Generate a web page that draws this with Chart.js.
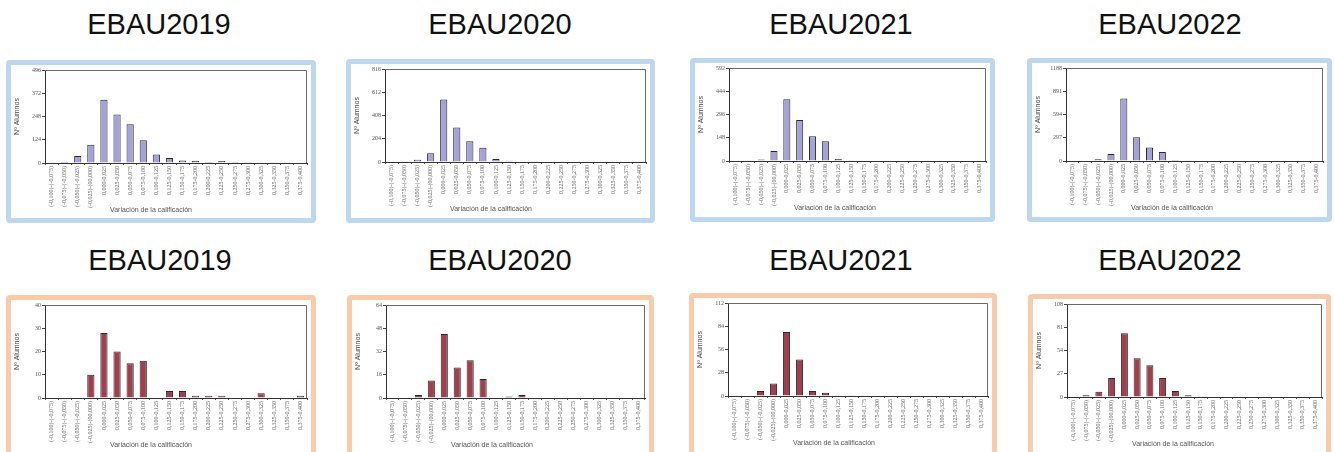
<!DOCTYPE html>
<html><head><meta charset="utf-8">
<script src="https://cdn.jsdelivr.net/npm/chart.js@4.4.0/dist/chart.umd.min.js"></script>
<style>
html,body{margin:0;padding:0;background:#fff;width:1334px;height:452px;overflow:hidden;position:relative;}
.title{position:absolute;width:240px;margin-left:-120px;text-align:center;font-family:"Liberation Sans",Arial,sans-serif;font-size:29px;line-height:29px;color:#111;}
.panel{position:absolute;border:5px solid;border-radius:4px;background:#fff;box-sizing:border-box;overflow:visible;}
.panel.blue{border-color:#bdd7ee;}
.panel.orange{border-color:#f8cbad;}
.panel canvas{position:absolute;left:0;top:0;}
</style></head><body>
<script>
// ---- data ----
const categories = ["(-0,100)-(-0,075)","(-0,075)-(-0,050)","(-0,050)-(-0,025)","(-0,025)-(00,000)",
  "0,000-0,025","0,025-0,050","0,050-0,075","0,075-0,100","0,100-0,125","0,125-0,150","0,150-0,175",
  "0,175-0,200","0,200-0,225","0,225-0,250","0,250-0,275","0,275-0,300","0,300-0,325","0,325-0,350",
  "0,350-0,375","0,375-0,400"];
const panelTitles = ["EBAU2019","EBAU2020","EBAU2021","EBAU2022"];
const top2019 = [3,6,37,98,337,259,207,121,45,27,14,12,5,11,5,4,3,2,1,0];
const top2020 = [0,3,20,76,549,302,182,126,26,12,5,6,0,0,0,0,0,0,0,0];
const top2021 = [0,2,9,64,393,261,158,126,13,4,0,0,0,0,0,0,0,0,0,0];
const top2022 = [0,0,22,88,798,302,171,114,13,9,0,0,0,0,0,0,0,0,0,0];
const bottom2019 = [0,0,0,10,28,20,15,16,0,3,3,1,1,1,0,0,2,0,0,1];
const bottom2020 = [0,0,2,12,44,21,26,13,0,1,2,0,0,0,0,0,0,0,0,0];
const bottom2021 = [1,0,6,15,77,44,6,4,1,1,1,0,0,0,0,0,0,0,0,0];
const bottom2022 = [0,2,6,22,74,45,37,22,7,2,1,0,0,0,0,0,0,0,0,0];
const topYMax = [496,816,592,1188];
const bottomYMax = [40,64,112,108];
const xAxisTitle = "Variación de la calificación";
const yAxisTitle = "Nº Alumnos";

// ---- layout (positions only) ----
const topPanels = [[6,60,310,163],[346,59,309,164],[690,58,305,164],[1027,58,305,164]];
const bottomPanels = [[6,295,310,170],[347,295,307,170],[689,293,308,170],[1028,294,303,170]];
const topTitleX = [159,500,841,1170];
const bottomTitleX = [160,500,841,1170];

const framePlugin = {
  id:'frame',
  afterDraw(chart){
    const {ctx, chartArea:a} = chart;
    ctx.save();
    ctx.strokeStyle = '#6a6a6a'; ctx.lineWidth = 1;
    ctx.beginPath();
    ctx.moveTo(a.left, a.top+0.5); ctx.lineTo(a.right-0.5, a.top+0.5); ctx.lineTo(a.right-0.5, a.bottom);
    ctx.stroke();
    ctx.fillStyle = '#555';
    ctx.font = '7px "Liberation Sans", Arial, sans-serif';
    ctx.textAlign = 'center'; ctx.textBaseline = 'middle';
    ctx.fillText(xAxisTitle, a.left + 106, a.bottom + 47);
    ctx.restore();
  }
};

function makePanel(geom, cls, titleX, titleY, title, values, yMax, fill){
  const [x,y,w,h] = geom;
  const t = document.createElement('div');
  t.className='title'; t.style.left=titleX+'px'; t.style.top=titleY+'px'; t.textContent=title;
  document.body.appendChild(t);
  const p = document.createElement('div');
  p.className='panel '+cls;
  p.style.left=x+'px'; p.style.top=y+'px'; p.style.width=w+'px'; p.style.height=h+'px';
  document.body.appendChild(p);
  const cw = w-10, ch = 155;
  const c = document.createElement('canvas');
  c.width=cw; c.height=ch; c.style.width=cw+'px'; c.style.height=ch+'px';
  p.appendChild(c);
  new Chart(c, {
    type:'bar',
    data:{labels:categories, datasets:[{data:values, backgroundColor:fill, borderColor:'#2a2a2a', borderWidth:1,
      barPercentage:0.55, categoryPercentage:1}]},
    options:{
      responsive:false, animation:false, devicePixelRatio:1,
      layout:{padding:{top:5,right:4,left:0,bottom:0}},
      plugins:{legend:{display:false}, tooltip:{enabled:false}},
      scales:{
        x:{
          afterFit(s){ s.height = ch - 5 - 93; },
          grid:{display:true, drawOnChartArea:false, drawTicks:true, tickLength:2, color:'#555', offset:true},
          border:{display:true, color:'#333', width:1},
          ticks:{autoSkip:false, maxRotation:90, minRotation:90, padding:1, color:'#666',
            font:{family:'"Liberation Serif", serif', size:6}}
        },
        y:{
          min:0, max:yMax,
          afterFit(s){ s.width = 34; },
          afterBuildTicks(s){ s.ticks = [0,1,2,3,4].map(i=>({value: yMax*i/4})); },
          grid:{display:true, drawOnChartArea:false, drawTicks:true, tickLength:3, color:'#444'},
          border:{display:true, color:'#333', width:1},
          ticks:{padding:1, color:'#555', font:{family:'"Liberation Serif", serif', size:6},
            callback:(v)=>String(Math.round(v))},
          title:{display:true, text:yAxisTitle, color:'#444', padding:{top:2,bottom:0},
            font:{family:'"Liberation Sans", Arial, sans-serif', size:7}}
        }
      }
    },
    plugins:[framePlugin]
  });
}

const topData = [top2019, top2020, top2021, top2022];
const bottomData = [bottom2019, bottom2020, bottom2021, bottom2022];
for (let i=0;i<4;i++){
  makePanel(topPanels[i],'blue',topTitleX[i],10,panelTitles[i],topData[i],topYMax[i],'#a5a2d8');
  makePanel(bottomPanels[i],'orange',bottomTitleX[i],246,panelTitles[i],bottomData[i],bottomYMax[i],'#a0404f');
}
</script>
</body></html>
